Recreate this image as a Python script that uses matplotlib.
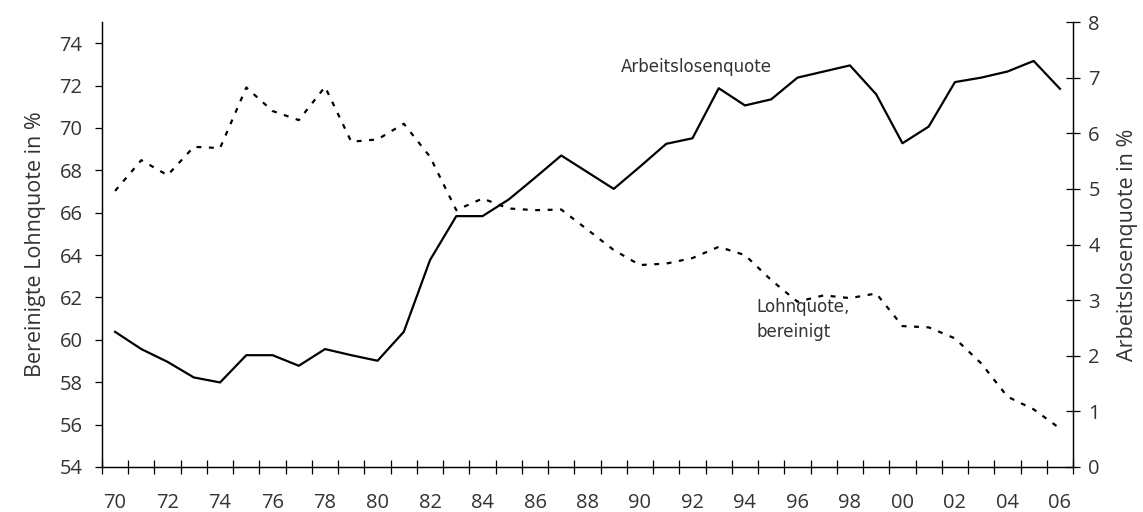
import matplotlib
matplotlib.use("Agg")
import matplotlib.pyplot as plt
from matplotlib.ticker import FixedLocator

plt.rcParams["font.family"] = ["Open Sans", "DejaVu Sans"]

# ─────────────────────────────────────────────
# DATA
# ─────────────────────────────────────────────
years = list(range(1970, 2007))
year_labels = [f"{y % 100:02d}" for y in years[::2]]

# Arbeitslosenquote in % (right axis, solid)
unemployment = [2.43, 2.12, 1.89, 1.61, 1.52, 2.01, 2.01, 1.82, 2.12, 2.01,
                1.91, 2.43, 3.72, 4.51, 4.51, 4.81, 5.20, 5.60, 5.30, 5.00,
                5.40, 5.81, 5.91, 6.81, 6.50, 6.61, 7.00, 7.11, 7.22, 6.70,
                5.82, 6.12, 6.92, 7.00, 7.11, 7.30, 6.80]

# Bereinigte Lohnquote in % (left axis, dashed)
wage_share = [67.03, 68.48, 67.77, 69.11, 69.05, 71.91, 70.80, 70.37, 71.94, 69.35,
              69.46, 70.20, 68.64, 66.12, 66.67, 66.20, 66.12, 66.15, 65.20, 64.24,
              63.53, 63.60, 63.86, 64.39, 64.00, 62.82, 61.80, 62.10, 61.97, 62.19,
              60.65, 60.59, 60.07, 58.89, 57.32, 56.72, 55.82]

TEXT = "#333333"

# ─────────────────────────────────────────────
# FIGURE
# ─────────────────────────────────────────────
fig = plt.figure(figsize=(11.43, 5.12), dpi=100)
ax = fig.add_axes([0.0892, 0.0879, 0.9388 - 0.0892, 0.957 - 0.0879])
ax2 = ax.twinx()

x = list(range(len(years)))
ax.plot(x, wage_share, color="black", linewidth=1.6, linestyle=(0, (2.2, 3.4)),
        dash_capstyle="butt")
ax2.plot(x, unemployment, color="black", linewidth=1.6)

ax.set_xlim(-0.5, len(years) - 0.5)
ax.set_ylim(54, 75)
ax2.set_ylim(0, 8)

# x axis: labels at year centres, tick marks at boundaries
ax.set_xticks(x[::2])
ax.set_xticklabels(year_labels)
ax.xaxis.set_minor_locator(FixedLocator([i - 0.5 for i in range(len(years) + 1)]))
ax.tick_params(axis="x", which="major", length=0, pad=19, labelsize=14.5, labelcolor=TEXT)
ax.tick_params(axis="x", which="minor", direction="inout", length=9.5, width=0.9)

ax.set_yticks(range(54, 75, 2))
ax.tick_params(axis="y", direction="out", length=5, width=0.9, labelsize=14.5,
               labelcolor=TEXT, pad=9)
ax2.set_yticks(range(0, 9))
ax2.tick_params(axis="y", direction="inout", length=10, width=0.9, labelsize=14.5,
                labelcolor=TEXT, pad=6)

for a in (ax, ax2):
    a.spines["top"].set_visible(False)
    for s in ("left", "right", "bottom"):
        a.spines[s].set_linewidth(0.9)

ax.set_ylabel("Bereinigte Lohnquote in %", fontsize=15.5, color=TEXT, labelpad=10)
ax2.set_ylabel("Arbeitslosenquote in %", fontsize=15.5, color=TEXT, labelpad=12)

ax2.text(19.26, 7.19, "Arbeitslosenquote", fontsize=12, color=TEXT,
         ha="left", va="center", family=["DejaVu Sans"])
ax.text(24.44, 60.96, "Lohnquote,\nbereinigt", fontsize=12, color=TEXT,
        ha="left", va="center", linespacing=1.45, family=["DejaVu Sans"])

fig.savefig("out.png", dpi=100)
